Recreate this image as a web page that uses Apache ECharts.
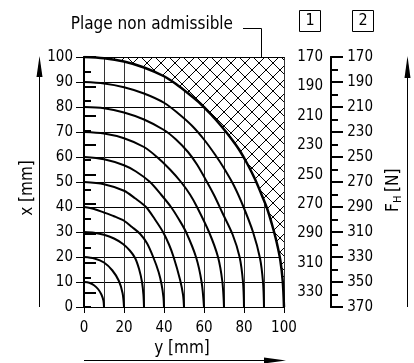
<!DOCTYPE html>
<html>
<head>
<meta charset="utf-8">
<script src="https://cdn.jsdelivr.net/npm/echarts@6/dist/echarts.min.js"></script>
<style>
  html, body { margin: 0; padding: 0; background: #fff; }
  #chart { width: 414px; height: 363px; }
</style>
</head>
<body>
<div id="chart"></div>
<script>
const FONT = '"DejaVu Sans Condensed", "DejaVu Sans", sans-serif';

// Stroke curves, as [y mm, x mm] pairs
const stroke10 = [[0,10],[2.6,9.7],[5,8.7],[7.1,7.1],[8.7,5],[9.7,2.6],[10,0]];
const stroke20 = [[0,20],[5.2,19.4],[10,17.8],[14.2,14.6],[17.4,10.5],[19.3,5.5],[20,0]];
const stroke30 = [[0,30],[5,29.7],[10,28.9],[15,27.4],[19.5,25.2],[23,22.5],[25.6,19.5],[27.6,15],[29,10],[29.7,5],[30,0]];
const stroke40 = [[0,40],[5,39.2],[10,37.8],[15,36.3],[20,34.5],[24,32],[28,29.3],[31.5,25.5],[34.6,20],[37.3,14],[38.8,9],[39.7,4],[40,0]];
const stroke50 = [[0,50],[10,49.1],[20,46.5],[25.5,43.5],[31,40],[35.5,35],[39.5,30],[42.5,25],[44.8,20],[48,11],[49.5,5],[50,0]];
const stroke60 = [[0,60],[10,59.1],[20,56.7],[26,54.2],[33,50],[38.5,45],[43.5,40],[47.5,35],[51,30],[56,20],[58.8,10],[60,0]];
const stroke70 = [[0,70],[10,69.4],[20,67.5],[30,64],[36.5,60],[43,55],[48.5,50],[53,45],[56.5,40],[62.5,30],[67,20],[69.2,10],[70,0]];
const stroke80 = [[0,80],[10,79.5],[20,77.8],[30,75],[40,70.8],[46,67],[52,62],[56.5,57],[61.5,50],[65.5,44],[69,38],[74.3,29],[77.8,20],[79.5,10],[80,0]];
const stroke90 = [[0,90],[10,89.4],[20,87.9],[30,85.4],[40,81.7],[47,77.5],[54,72.5],[60,67],[65.5,61],[70,55.5],[75,48.5],[79.5,40.5],[84.5,30],[88,19.5],[89.5,10],[90,0]];
const stroke100 = [[0,100],[10,99.5],[20,98.2],[30,95.8],[40,92.3],[46,89.2],[52,85.5],[58,81.5],[63.5,77],[68.5,72.5],[73,68],[77.5,63],[81.5,57.5],[85.3,51.5],[88.5,45.5],[91.5,39.5],[94,33],[96.3,26],[98.2,18.5],[99.4,10],[100,0]];

const strokes = [stroke10, stroke20, stroke30, stroke40, stroke50, stroke60, stroke70, stroke80, stroke90];

// Force scales (N): labelled values, tick values and full range of each scale
const force1Labels = [170, 190, 210, 230, 250, 270, 290, 310, 330];
const force1Ticks = [170, 180, 190, 200, 210, 220, 230, 240, 250, 260, 270, 280, 290, 300, 310, 320, 330, 340];
const force1Range = [170, 340];
const force2Labels = [170, 190, 210, 230, 250, 270, 290, 310, 330, 350, 370];
const force2Ticks = [170, 180, 190, 200, 210, 220, 230, 240, 250, 260, 270, 280, 290, 300, 310, 320, 330, 340, 350, 360, 370];
const force2Range = [170, 370];

// Cross-hatch tile for the non-admissible zone
function hatchTile() {
  const c = document.createElement('canvas');
  c.width = 14; c.height = 14;
  const g = c.getContext('2d');
  g.fillStyle = '#fff';
  g.fillRect(0, 0, 14, 14);
  g.strokeStyle = '#000';
  g.lineWidth = 1;
  g.beginPath();
  g.moveTo(0, 0); g.lineTo(14, 14);
  g.moveTo(14, 0); g.lineTo(0, 14);
  g.stroke();
  return c;
}

const chart = echarts.init(document.getElementById('chart'), null, { renderer: 'canvas' });

const labelStyle = { color: '#000', fontSize: 15, fontFamily: FONT };

function forceAxis(range, tickValues, labelValues, offset, tickLen, labelMargin) {
  return {
    type: 'value', position: 'right', gridIndex: 0, offset: offset,
    min: range[0], max: range[1], inverse: true, z: 5,
    axisLine: { show: true, lineStyle: { color: '#000', width: 2 } },
    axisTick: { show: true, length: tickLen, customValues: tickValues, lineStyle: { color: '#000', width: 2 } },
    axisLabel: labelValues ? Object.assign({ show: true, align: 'right', margin: labelMargin, customValues: labelValues }, labelStyle) : { show: false },
    splitLine: { show: false }
  };
}

const series = strokes.map(d => ({
  type: 'line', data: d, smooth: 0.3, symbol: 'none', silent: true,
  lineStyle: { color: '#000', width: 2 }, z: 3
}));

series.push({
  type: 'line', data: stroke100, smooth: 0.3, symbol: 'none', silent: true,
  lineStyle: { color: '#000', width: 2.5 },
  areaStyle: { origin: 'end', opacity: 1, color: { image: hatchTile(), repeat: 'repeat' } },
  z: 2
});

const option = {
  animation: false,
  backgroundColor: '#fff',
  grid: { left: 84, top: 57, width: 200, height: 250, containLabel: false },
  xAxis: [
    {
      type: 'value', min: 0, max: 100, interval: 20, position: 'bottom',
      axisLine: { show: true, onZero: false, lineStyle: { color: '#000', width: 1 } },
      axisTick: { show: true, length: 6, lineStyle: { color: '#000', width: 1 } },
      axisLabel: Object.assign({ margin: 14 }, labelStyle),
      splitLine: { show: true, lineStyle: { color: '#333', width: 1 } },
      minorTick: { show: false, splitNumber: 2 },
      minorSplitLine: { show: true, lineStyle: { color: '#333', width: 1 } }
    },
    {
      type: 'value', min: 0, max: 100, position: 'top', z: 5,
      axisLine: { show: true, onZero: false, lineStyle: { color: '#000', width: 1 } },
      axisTick: { show: false }, axisLabel: { show: false }, splitLine: { show: false }
    }
  ],
  yAxis: [
    {
      type: 'value', min: 0, max: 100, interval: 10, position: 'left',
      axisLine: { show: true, onZero: false, lineStyle: { color: '#333', width: 1 } },
      axisTick: { show: true, length: 8, lineStyle: { color: '#000', width: 1 } },
      axisLabel: Object.assign({ margin: 11 }, labelStyle),
      splitLine: { show: true, lineStyle: { color: '#000', width: 1 } }
    },
    forceAxis(force1Range, force1Ticks, null, 0, 7),
    forceAxis(force1Range, force1Labels, force1Labels, 0, 12, 39),
    forceAxis(force2Range, force2Ticks, null, 47, 7),
    forceAxis(force2Range, force2Labels, force2Labels, 47, 12, 42)
  ],
  series: series,
  graphic: [
    // zone caption with leader line
    { type: 'text', x: 233, y: 25, style: { text: 'Plage non admissible', fill: '#000', font: '17px ' + FONT, align: 'right', verticalAlign: 'middle' } },
    { type: 'polyline', shape: { points: [[243, 28.5], [261.5, 28.5], [261.5, 64]] }, style: { stroke: '#000', lineWidth: 1, fill: null } },
    // scale keys
    { type: 'rect', shape: { x: 299.5, y: 10.5, width: 21, height: 21 }, style: { stroke: '#000', lineWidth: 1, fill: null } },
    { type: 'text', x: 310, y: 21, style: { text: '1', fill: '#000', font: '16px ' + FONT, align: 'center', verticalAlign: 'middle' } },
    { type: 'rect', shape: { x: 352.5, y: 10.5, width: 21, height: 21 }, style: { stroke: '#000', lineWidth: 1, fill: null } },
    { type: 'text', x: 363, y: 21, style: { text: '2', fill: '#000', font: '16px ' + FONT, align: 'center', verticalAlign: 'middle' } },
    // x axis title and arrow
    { type: 'text', x: 28, y: 188, rotation: Math.PI / 2, style: { text: 'x [mm]', fill: '#000', font: '17px ' + FONT, align: 'center', verticalAlign: 'middle' } },
    { type: 'line', shape: { x1: 39.5, y1: 307, x2: 39.5, y2: 75 }, style: { stroke: '#000', lineWidth: 1 } },
    { type: 'polygon', shape: { points: [[39.5, 56], [36.5, 77], [42.5, 77]] }, style: { fill: '#000' } },
    // y axis title and arrow
    { type: 'text', x: 182, y: 349, style: { text: 'y [mm]', fill: '#000', font: '17px ' + FONT, align: 'center', verticalAlign: 'middle' } },
    { type: 'line', shape: { x1: 84, y1: 360.5, x2: 266, y2: 360.5 }, style: { stroke: '#000', lineWidth: 1 } },
    { type: 'polygon', shape: { points: [[286, 360.5], [264, 357.5], [264, 363.5]] }, style: { fill: '#000' } },
    // force title and arrow
    {
      type: 'group', x: 394, y: 190, rotation: Math.PI / 2,
      children: [
        { type: 'text', x: -22, y: 0, style: { text: 'F', fill: '#000', font: '17px ' + FONT, align: 'left', verticalAlign: 'middle' } },
        { type: 'text', x: -13, y: 4, style: { text: 'H', fill: '#000', font: '11px ' + FONT, align: 'left', verticalAlign: 'middle' } },
        { type: 'text', x: -2, y: 0, style: { text: '[N]', fill: '#000', font: '17px ' + FONT, align: 'left', verticalAlign: 'middle' } }
      ]
    },
    { type: 'line', shape: { x1: 407.5, y1: 307, x2: 407.5, y2: 76 }, style: { stroke: '#000', lineWidth: 1 } },
    { type: 'polygon', shape: { points: [[407.5, 56], [404.5, 78], [410.5, 78]] }, style: { fill: '#000' } }
  ]
};

chart.setOption(option);
</script>
</body>
</html>
